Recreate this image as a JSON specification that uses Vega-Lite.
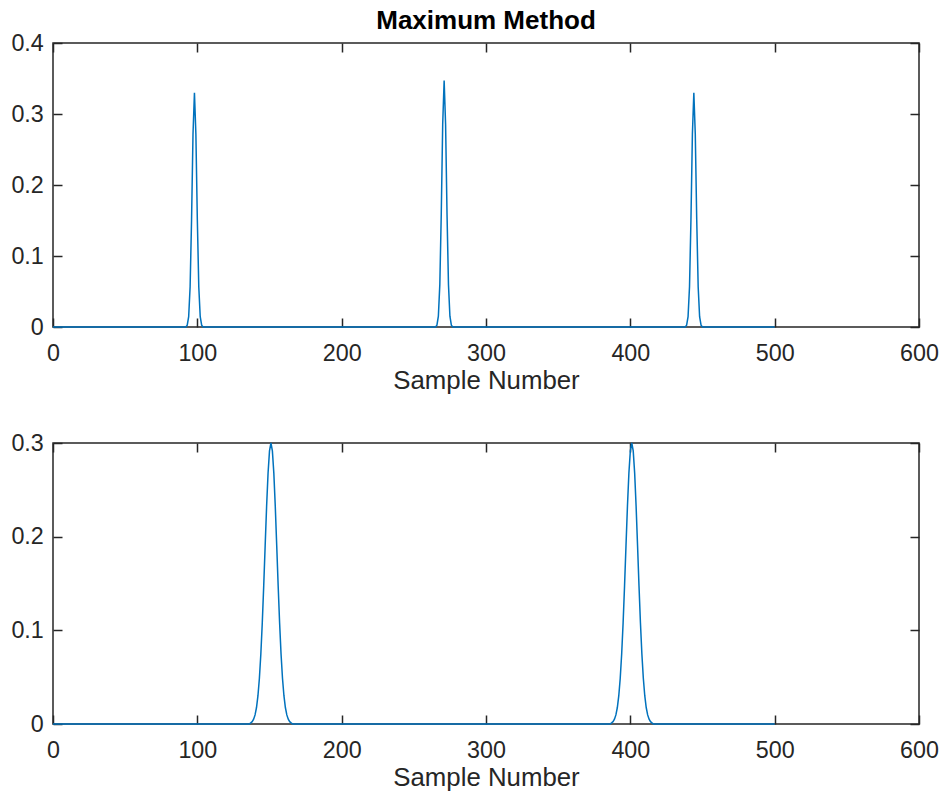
{
 "$schema": "https://vega.github.io/schema/vega-lite/v6.json",
 "background": "white",
 "padding": {"left": 10, "top": 7, "right": 5, "bottom": 5},
 "spacing": 116,
 "bounds": "flush",
 "config": {
  "view": {"stroke": "#262626", "strokeWidth": 1.5},
  "font": "Liberation Sans",
  "axis": {"domain": false, "grid": false, "minExtent": 0, "tickColor": "#262626", "tickWidth": 1.5, "tickSize": -9, "labelColor": "#262626", "labelFontSize": 23.3, "labelFont": "Liberation Sans", "titleFont": "Liberation Sans", "titleFontSize": 25.8, "titleFontWeight": "normal", "titleColor": "#262626", "labelFlush": false, "labelOverlap": false, "labelBound": false}
 },
 "datasets": {
  "top": [{"x":0,"y":0},{"x":92,"y":0},{"x":93,"y":0.0025},{"x":94,"y":0.0145},{"x":95,"y":0.0568},{"x":96,"y":0.1512},{"x":97,"y":0.2716},{"x":98,"y":0.33},{"x":99,"y":0.2716},{"x":100,"y":0.1512},{"x":101,"y":0.0568},{"x":102,"y":0.0145},{"x":103,"y":0.0025},{"x":104,"y":0},
   {"x":265,"y":0},{"x":266,"y":0.0026},{"x":267,"y":0.0152},{"x":268,"y":0.0597},{"x":269,"y":0.1589},{"x":270,"y":0.2856},{"x":271,"y":0.347},{"x":272,"y":0.2856},{"x":273,"y":0.1589},{"x":274,"y":0.0597},{"x":275,"y":0.0152},{"x":276,"y":0.0026},{"x":277,"y":0},
   {"x":438,"y":0},{"x":439,"y":0.0025},{"x":440,"y":0.0145},{"x":441,"y":0.0568},{"x":442,"y":0.1512},{"x":443,"y":0.2716},{"x":444,"y":0.33},{"x":445,"y":0.2716},{"x":446,"y":0.1512},{"x":447,"y":0.0568},{"x":448,"y":0.0145},{"x":449,"y":0.0025},{"x":450,"y":0},{"x":500,"y":0}],
  "bottom": [{"x":0,"y":0},{"x":136,"y":0},{"x":137,"y":0.0012},{"x":138,"y":0.0025},{"x":139,"y":0.0051},{"x":140,"y":0.0097},{"x":141,"y":0.0176},{"x":142,"y":0.0302},{"x":143,"y":0.0489},{"x":144,"y":0.0748},{"x":145,"y":0.1081},{"x":146,"y":0.1477},{"x":147,"y":0.1906},{"x":148,"y":0.2324},{"x":149,"y":0.2678},{"x":150,"y":0.2916},{"x":151,"y":0.3},{"x":152,"y":0.2916},{"x":153,"y":0.2678},{"x":154,"y":0.2324},{"x":155,"y":0.1906},{"x":156,"y":0.1477},{"x":157,"y":0.1081},{"x":158,"y":0.0748},{"x":159,"y":0.0489},{"x":160,"y":0.0302},{"x":161,"y":0.0176},{"x":162,"y":0.0097},{"x":163,"y":0.0051},{"x":164,"y":0.0025},{"x":165,"y":0.0012},{"x":166,"y":0},
   {"x":386,"y":0},{"x":387,"y":0.0012},{"x":388,"y":0.0025},{"x":389,"y":0.0051},{"x":390,"y":0.0097},{"x":391,"y":0.0176},{"x":392,"y":0.0302},{"x":393,"y":0.0489},{"x":394,"y":0.0748},{"x":395,"y":0.1081},{"x":396,"y":0.1477},{"x":397,"y":0.1906},{"x":398,"y":0.2324},{"x":399,"y":0.2678},{"x":400,"y":0.2916},{"x":401,"y":0.3},{"x":402,"y":0.2916},{"x":403,"y":0.2678},{"x":404,"y":0.2324},{"x":405,"y":0.1906},{"x":406,"y":0.1477},{"x":407,"y":0.1081},{"x":408,"y":0.0748},{"x":409,"y":0.0489},{"x":410,"y":0.0302},{"x":411,"y":0.0176},{"x":412,"y":0.0097},{"x":413,"y":0.0051},{"x":414,"y":0.0025},{"x":415,"y":0.0012},{"x":416,"y":0},{"x":500,"y":0}]
 },
 "vconcat": [
  {
   "width": 866, "height": 284,
   "title": {"text": "Maximum Method", "fontSize": 26, "fontWeight": "bold", "color": "#000000", "baseline": "alphabetic", "offset": 12.7, "dy": 37, "anchor": "middle", "font": "Liberation Sans"},
   "data": {"name": "top"},
   "layer": [
    {"mark": {"type": "line", "strokeWidth": 1.5, "color": "#0072BD"},
     "encoding": {
      "x": {"field": "x", "type": "quantitative", "scale": {"domain": [0, 600], "nice": false}, "axis": {"orient": "bottom", "values": [0,100,200,300,400,500,600], "format": "d", "labelPadding": 24.5, "title": "Sample Number", "titleY": 61, "titleBaseline": "alphabetic"}},
      "y": {"field": "y", "type": "quantitative", "scale": {"domain": [0, 0.4], "nice": false}, "axis": {"orient": "left", "values": [0,0.1,0.2,0.3,0.4], "format": ".1~f", "labelPadding": 18.7, "title": null}}
     }},
    {"mark": {"type": "line", "strokeOpacity": 0},
     "encoding": {
      "x": {"field": "x", "type": "quantitative", "scale": {"domain": [0, 600], "nice": false}, "axis": {"orient": "top", "values": [0,100,200,300,400,500,600], "labels": false, "title": null}},
      "y": {"field": "y", "type": "quantitative", "scale": {"domain": [0, 0.4], "nice": false}, "axis": {"orient": "right", "values": [0,0.1,0.2,0.3,0.4], "labels": false, "title": null}}
     }}
   ],
   "resolve": {"axis": {"x": "independent", "y": "independent"}}
  },
  {
   "width": 866, "height": 281,
   "data": {"name": "bottom"},
   "layer": [
    {"mark": {"type": "line", "strokeWidth": 1.5, "color": "#0072BD"},
     "encoding": {
      "x": {"field": "x", "type": "quantitative", "scale": {"domain": [0, 600], "nice": false}, "axis": {"orient": "bottom", "values": [0,100,200,300,400,500,600], "format": "d", "labelPadding": 24.5, "title": "Sample Number", "titleY": 61, "titleBaseline": "alphabetic"}},
      "y": {"field": "y", "type": "quantitative", "scale": {"domain": [0, 0.3], "nice": false}, "axis": {"orient": "left", "values": [0,0.1,0.2,0.3], "format": ".1~f", "labelPadding": 18.7, "title": null}}
     }},
    {"mark": {"type": "line", "strokeOpacity": 0},
     "encoding": {
      "x": {"field": "x", "type": "quantitative", "scale": {"domain": [0, 600], "nice": false}, "axis": {"orient": "top", "values": [0,100,200,300,400,500,600], "labels": false, "title": null}},
      "y": {"field": "y", "type": "quantitative", "scale": {"domain": [0, 0.3], "nice": false}, "axis": {"orient": "right", "values": [0,0.1,0.2,0.3], "labels": false, "title": null}}
     }}
   ],
   "resolve": {"axis": {"x": "independent", "y": "independent"}}
  }
 ]
}
